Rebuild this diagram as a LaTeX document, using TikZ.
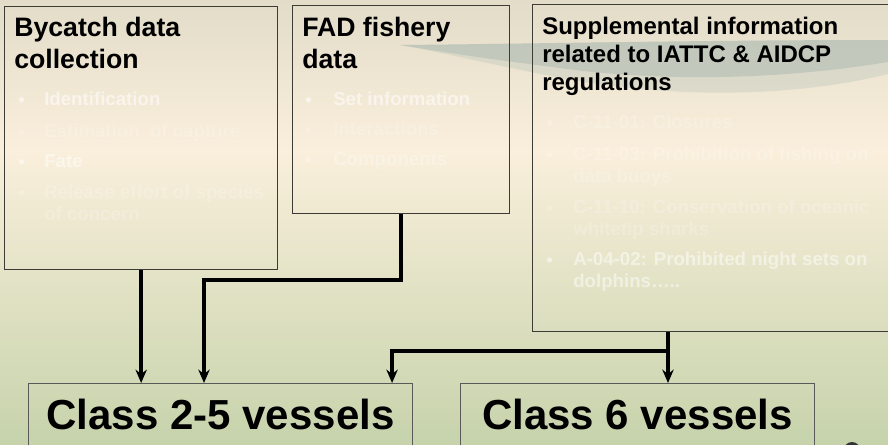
\documentclass[tikz,border=0pt]{standalone}
\usepackage{fontspec}
\setmainfont{Liberation Sans}
\usetikzlibrary{positioning,arrows.meta}
\definecolor{bgtop}{HTML}{E2DCC8}
\definecolor{bgmid}{HTML}{FAEFDC}
\definecolor{bgbot}{HTML}{C6D3AB}
\definecolor{wavedark}{HTML}{A7B5AE}
\definecolor{wavelight}{HTML}{C9CFC2}
\definecolor{boxline}{HTML}{3C3C34}
\tikzset{
  infobox/.style={draw=boxline, line width=1pt, anchor=north west, inner sep=0pt},
  vesselbox/.style={draw=gray!70!black, line width=0.8pt, anchor=north west, inner sep=0pt,
    font=\bfseries\fontsize{31.5}{36}\selectfont},
  boxtitle/.style={anchor=north west, inner sep=0pt, align=left,
    font=\bfseries\fontsize{20}{24}\selectfont},
  bulletdot/.style={anchor=base west, inner sep=0pt, text=white,
    font=\bfseries\fontsize{14}{16}\selectfont},
  bullettext/.style={bulletdot, anchor=north west, align=left, yshift=10.5pt},
  link/.style={line width=2.6pt, -{Stealth[length=10pt,width=8.5pt]}},
}
\begin{document}
\begin{tikzpicture}[x=0.75pt,y=-0.75pt]
\useasboundingbox (0,0) rectangle (888,444);
% background of the slide
\shade[top color=bgtop, bottom color=bgmid] (0,0) rectangle (888,150);
\shade[top color=bgmid, bottom color=bgbot] (0,150) rectangle (888,444);
\fill[wavelight, opacity=0.5] (400,45) .. controls (520,44) and (700,40) .. (888,40)
  -- (888,74) .. controls (800,96) and (680,100) .. (560,78)
  .. controls (480,62) and (430,50) .. (400,45) -- cycle;
\fill[wavedark, opacity=0.45] (400,45) .. controls (520,44) and (700,40) .. (888,40)
  -- (888,62) .. controls (780,80) and (660,82) .. (560,68)
  .. controls (480,58) and (430,50) .. (400,45) -- cycle;
\fill[black!80] (852,452) ellipse (9 and 10);

% the three sources
\node[infobox, minimum width=204.75pt, minimum height=197.25pt] (bycatch) at (4,6) {};
\node[infobox, minimum width=162.75pt, minimum height=156pt] (fad) at (292,5) {};
\node[infobox, minimum width=272.25pt, minimum height=245.25pt] (supp) at (532,4) {};

\node[boxtitle] (bycatch title) at (14,17) {Bycatch data\\collection};
\node[boxtitle] (fad title) at (302,17) {FAD fishery\\data};
\node[boxtitle, font=\bfseries\fontsize{18}{21}\selectfont] (supp title) at (542,17)
  {Supplemental information\\related to IATTC \& AIDCP\\regulations};

\foreach \y/\t/\o [count=\i] in {106/Identification/0.55, 138/Estimation\ \ of capture/0.2,
    168/Fate/0.5, 199/{Release effort of species\\of concern}/0.2}
  {\node[bulletdot, text opacity=\o] (bycatch dot \i) at (18,\y) {•};
   \node[bullettext, text opacity=\o] (bycatch item \i) at (44,\y) {\t};}
\foreach \y/\t/\o [count=\i] in {106/Set information/0.55, 136/Interactions/0.2,
    166/Components/0.3}
  {\node[bulletdot, text opacity=\o] (fad dot \i) at (305,\y) {•};
   \node[bullettext, text opacity=\o] (fad item \i) at (333,\y) {\t};}
\foreach \y/\t/\o [count=\i] in {129/C-11-01: Closures/0.2,
    161/{C-11-03: Prohibition of fishing on\\data buoys}/0.2,
    214/{C-11-10: Conservation of oceanic\\whitetip sharks}/0.2,
    266/{A-04-02: Prohibited night sets on\\dolphins…..}/0.5}
  {\node[bulletdot, text opacity=\o] (supp dot \i) at (546,\y) {•};
   \node[bullettext, text opacity=\o] (supp item \i) at (573,\y) {\t};}

% vessel classes
\node[vesselbox, minimum width=288pt, minimum height=46.5pt] (cls25) at (28,383) {Class 2-5 vessels};
\node[vesselbox, minimum width=265.5pt, minimum height=46.5pt] (cls6) at (460,383) {Class 6 vessels};

% connectors
\coordinate (fad turn) at (204,280);
\coordinate (supp split) at (668,351);
\draw[link] (bycatch.south) -- (bycatch.south |- cls25.north);
\draw[link] (fad.south) |- (fad turn) -- (fad turn |- cls25.north);
\draw[link] (supp split |- supp.south) -- (supp split |- cls6.north);
\draw[link] (supp split) -| ([xshift=-15.75pt]cls25.north east);
\end{tikzpicture}
\end{document}
